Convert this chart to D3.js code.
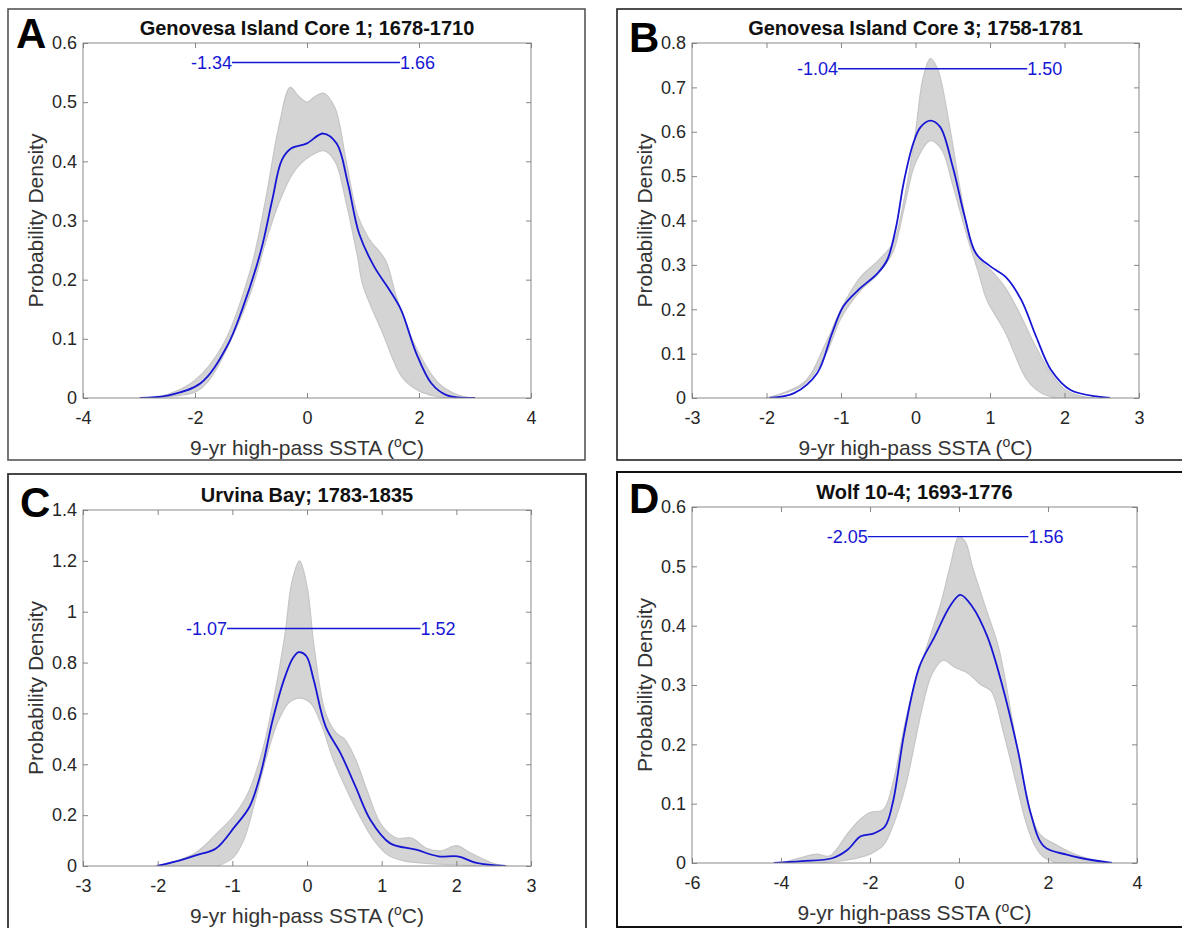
<!DOCTYPE html>
<meta charset="utf-8">
<style>
  body { margin: 0; padding: 0; background: #fff; }
  text { font-family: "Liberation Sans", Arial, sans-serif; }
  .tick text { fill: #262626; font-size: 18px; }
  .tick line { stroke: #7a7a7a; stroke-width: 0.9; }
  .domain { display: none; }
</style>
<script src="https://d3js.org/d3.v7.min.js"></script>
<body>
<div id="chart"></div>
<script>
// ---- data ----
const letters = ["A", "B", "C", "D"];
const titles = [
  "Genovesa Island Core 1; 1678-1710",
  "Genovesa Island Core 3; 1758-1781",
  "Urvina Bay; 1783-1835",
  "Wolf 10-4; 1693-1776"
];
const xTicksA = [-4, -2, 0, 2, 4];
const xTicksB = [-3, -2, -1, 0, 1, 2, 3];
const xTicksC = [-3, -2, -1, 0, 1, 2, 3];
const xTicksD = [-6, -4, -2, 0, 2, 4];
const yTicksA = [0, 0.1, 0.2, 0.3, 0.4, 0.5, 0.6];
const yTicksB = [0, 0.1, 0.2, 0.3, 0.4, 0.5, 0.6, 0.7, 0.8];
const yTicksC = [0, 0.2, 0.4, 0.6, 0.8, 1, 1.2, 1.4];
const yTicksD = [0, 0.1, 0.2, 0.3, 0.4, 0.5, 0.6];

// interval bars: [low, high, height]
const rangeA = [-1.34, 1.66, 0.567];
const rangeB = [-1.04, 1.50, 0.742];
const rangeC = [-1.07, 1.52, 0.934];
const rangeD = [-2.05, 1.56, 0.550];

// blue mean pdf, [x, density]
const meanA = [[-2.98,0],[-2.5,0.004],[-1.9,0.025],[-1.43,0.087],[-1.16,0.149],[-0.82,0.25],[-0.62,0.335],
  [-0.45,0.402],[-0.28,0.422],[-0.01,0.43],[0.29,0.447],[0.53,0.43],[0.73,0.363],[0.93,0.278],[1.2,0.222],
  [1.47,0.183],[1.68,0.149],[1.95,0.076],[2.22,0.025],[2.49,0.005],[3.0,0]];
const meanB = [[-1.96,0],[-1.63,0.011],[-1.32,0.056],[-1.12,0.146],[-0.97,0.206],[-0.77,0.243],[-0.51,0.281],
  [-0.38,0.311],[-0.26,0.386],[-0.16,0.484],[-0.03,0.574],[0.07,0.611],[0.2,0.625],[0.33,0.611],[0.5,0.521],
  [0.66,0.409],[0.81,0.326],[1.01,0.296],[1.21,0.273],[1.42,0.221],[1.62,0.138],[1.82,0.063],[2.08,0.018],[2.61,0]];
const meanC = [[-2.01,0],[-1.68,0.024],[-1.48,0.043],[-1.22,0.069],[-0.97,0.154],[-0.77,0.233],[-0.62,0.364],
  [-0.46,0.574],[-0.31,0.731],[-0.19,0.817],[-0.11,0.841],[-0.01,0.826],[0.09,0.731],[0.25,0.548],[0.45,0.443],
  [0.65,0.312],[0.85,0.181],[1.11,0.09],[1.46,0.064],[1.76,0.038],[2.02,0.038],[2.27,0.012],[2.66,0]];
const meanD = [[-4.16,0],[-3.53,0.003],[-2.85,0.008],[-2.51,0.022],[-2.21,0.045],[-1.91,0.05],[-1.66,0.062],
  [-1.49,0.101],[-1.23,0.219],[-0.89,0.331],[-0.55,0.381],[-0.21,0.432],[0.03,0.452],[0.3,0.432],[0.64,0.381],
  [0.98,0.297],[1.32,0.191],[1.61,0.084],[1.91,0.028],[2.42,0.014],[2.76,0.008],[3.44,0]];

// grey ensemble, upper and lower envelopes
const upperA = [[-3,0],[-2.5,0.006],[-2,0.03],[-1.5,0.09],[-1,0.22],[-0.75,0.33],[-0.5,0.46],[-0.3,0.525],
  [-0.15,0.51],[0,0.5],[0.15,0.51],[0.3,0.515],[0.5,0.49],[0.7,0.4],[0.9,0.31],[1.1,0.27],[1.4,0.233],
  [1.6,0.17],[1.95,0.085],[2.35,0.025],[2.7,0.005],[3,0]];
const lowerA = [[-3,0],[-2,0.01],[-1.75,0.03],[-1.5,0.07],[-1,0.18],[-0.75,0.26],[-0.5,0.33],[-0.25,0.38],
  [0,0.405],[0.3,0.418],[0.5,0.4],[0.7,0.33],[0.9,0.24],[1.0,0.19],[1.35,0.11],[1.7,0.035],[2,0.012],[2.3,0.003],[2.6,0]];
const upperB = [[-2,0],[-1.5,0.035],[-1.2,0.125],[-1,0.2],[-0.75,0.27],[-0.5,0.31],[-0.3,0.35],[-0.15,0.45],
  [0,0.6],[0.1,0.72],[0.2,0.765],[0.3,0.74],[0.45,0.62],[0.6,0.47],[0.75,0.35],[0.9,0.305],[1.0,0.29],
  [1.2,0.25],[1.4,0.19],[1.6,0.12],[1.8,0.06],[2,0.02],[2.2,0.005],[2.4,0]];
const lowerB = [[-2,0],[-1.5,0.03],[-1.2,0.1],[-1,0.18],[-0.75,0.24],[-0.5,0.28],[-0.3,0.33],[-0.15,0.43],
  [0,0.53],[0.2,0.58],[0.35,0.56],[0.5,0.48],[0.7,0.36],[0.85,0.28],[0.96,0.22],[1.2,0.15],[1.5,0.04],[1.7,0.01],[1.9,0]];
const upperC = [[-2,0],[-1.5,0.05],[-1.2,0.13],[-1,0.19],[-0.8,0.28],[-0.6,0.45],[-0.45,0.65],[-0.3,0.9],
  [-0.2,1.12],[-0.1,1.2],[0,1.1],[0.1,0.85],[0.25,0.6],[0.4,0.52],[0.5,0.5],[0.65,0.42],[0.8,0.3],[1.0,0.16],
  [1.2,0.11],[1.4,0.11],[1.6,0.07],[1.8,0.06],[2.0,0.08],[2.2,0.05],[2.5,0.01],[2.7,0]];
const lowerC = [[-1.2,0],[-1,0.03],[-0.85,0.1],[-0.7,0.25],[-0.55,0.42],[-0.4,0.56],[-0.25,0.64],[-0.1,0.66],
  [0.05,0.64],[0.2,0.55],[0.35,0.42],[0.5,0.32],[0.7,0.2],[0.9,0.1],[1.1,0.04],[1.3,0.02],[1.6,0.01],[2.0,0.005],[2.3,0]];
const upperD = [[-4,0],[-3.5,0.01],[-3.2,0.015],[-2.9,0.012],[-2.5,0.05],[-2.2,0.075],[-2,0.085],[-1.7,0.09],
  [-1.5,0.13],[-1.2,0.24],[-1,0.3],[-0.7,0.37],[-0.4,0.44],[-0.2,0.5],[0,0.55],[0.15,0.54],[0.3,0.5],
  [0.6,0.43],[0.9,0.36],[1.2,0.24],[1.5,0.12],[1.8,0.05],[2.2,0.03],[2.7,0.012],[3.3,0]];
const lowerD = [[-3.2,0],[-2.5,0.005],[-2,0.015],[-1.7,0.03],[-1.5,0.06],[-1.2,0.13],[-1,0.2],[-0.8,0.27],
  [-0.6,0.32],[-0.35,0.342],[-0.1,0.33],[0.2,0.32],[0.5,0.3],[0.72,0.29],[1.0,0.22],[1.3,0.13],[1.5,0.07],
  [1.7,0.03],[1.9,0.01],[2.2,0]];

// ---- layout ----
const W = 1182, H = 928;
const panels = [
  {plot: [83, 43, 531, 398], frame: [8, 9, 577, 451], fw: 1.6, fc: "#555", lx: 16, ly: 48,
   xd: [-4, 4], yd: [0, 0.6], xt: xTicksA, yt: yTicksA, mean: meanA, up: upperA, lo: lowerA, rng: rangeA},
  {plot: [692, 43, 1139, 398], frame: [617, 9, 570, 451], fw: 1.6, fc: "#222", lx: 629, ly: 52,
   xd: [-3, 3], yd: [0, 0.8], xt: xTicksB, yt: yTicksB, mean: meanB, up: upperB, lo: lowerB, rng: rangeB},
  {plot: [83, 510, 531, 866], frame: [8, 474, 578, 470], fw: 1.8, fc: "#333", lx: 20, ly: 517,
   xd: [-3, 3], yd: [0, 1.4], xt: xTicksC, yt: yTicksC, mean: meanC, up: upperC, lo: lowerC, rng: rangeC},
  {plot: [692, 507, 1137, 863], frame: [617, 472, 570, 455], fw: 2, fc: "#111", lx: 629, ly: 513,
   xd: [-6, 4], yd: [0, 0.6], xt: xTicksD, yt: yTicksD, mean: meanD, up: upperD, lo: lowerD, rng: rangeD}
];

const svg = d3.select("#chart").append("svg")
  .attr("width", W).attr("height", H);

const fmt = v => String(+v.toFixed(1));   // plain hyphen minus, like MATLAB

panels.forEach(function(p, i) {
  const [x0, y0, x1, y1] = p.plot;
  const x = d3.scaleLinear().domain(p.xd).range([x0, x1]);
  const y = d3.scaleLinear().domain(p.yd).range([y1, y0]);

  // outer frame
  svg.append("rect")
    .attr("x", p.frame[0]).attr("y", p.frame[1])
    .attr("width", p.frame[2]).attr("height", p.frame[3])
    .attr("fill", "none").attr("stroke", p.fc).attr("stroke-width", p.fw);

  const clipId = "clip" + i;
  svg.append("clipPath").attr("id", clipId).append("rect")
    .attr("x", x0).attr("y", y0).attr("width", x1 - x0).attr("height", y1 - y0);

  const line = d3.line()
    .x(d => x(d[0])).y(d => y(Math.max(0, d[1])))
    .curve(d3.curveCatmullRom.alpha(0.5));

  const g = svg.append("g").attr("clip-path", "url(#" + clipId + ")");

  // grey ensemble band
  const band = line(p.up) + "L" + line(p.lo.slice().reverse()).slice(1) + "Z";
  g.append("path").attr("d", band)
    .attr("fill", "#d4d4d4").attr("stroke", "none");
  [p.up, p.lo].forEach(function(c) {
    g.append("path").attr("d", line(c))
      .attr("fill", "none").attr("stroke", "#c6c6c6").attr("stroke-width", 1.2);
  });

  // blue mean curve
  g.append("path").attr("d", line(p.mean))
    .attr("fill", "none").attr("stroke", "#1616d4").attr("stroke-width", 1.8);

  // axes box
  svg.append("rect")
    .attr("x", x0).attr("y", y0).attr("width", x1 - x0).attr("height", y1 - y0)
    .attr("fill", "none").attr("stroke", "#8a8a8a").attr("stroke-width", 1);

  svg.append("g").attr("transform", "translate(0," + y1 + ")")
    .call(d3.axisBottom(x).tickValues(p.xt).tickSizeInner(-5).tickSizeOuter(0)
      .tickPadding(13).tickFormat(fmt));
  svg.append("g").attr("transform", "translate(0," + y0 + ")")
    .call(d3.axisTop(x).tickValues(p.xt).tickSizeInner(-5).tickSizeOuter(0).tickFormat(""));
  svg.append("g").attr("transform", "translate(" + x0 + ",0)")
    .call(d3.axisLeft(y).tickValues(p.yt).tickSizeInner(-5).tickSizeOuter(0)
      .tickPadding(6).tickFormat(fmt));
  svg.append("g").attr("transform", "translate(" + x1 + ",0)")
    .call(d3.axisRight(y).tickValues(p.yt).tickSizeInner(-5).tickSizeOuter(0).tickFormat(""));
  svg.selectAll(".tick text").attr("font-family", null).attr("font-size", null);

  // interval bar with labels
  const [lo, hi, h] = p.rng;
  svg.append("line")
    .attr("x1", x(lo)).attr("x2", x(hi)).attr("y1", y(h)).attr("y2", y(h))
    .attr("stroke", "#1616d4").attr("stroke-width", 1.4);
  svg.append("text").attr("x", x(lo)).attr("y", y(h)).attr("dy", "0.36em")
    .attr("text-anchor", "end").attr("fill", "#1616d4").attr("font-size", 18)
    .text(lo.toFixed(2));
  svg.append("text").attr("x", x(hi)).attr("y", y(h)).attr("dy", "0.36em")
    .attr("text-anchor", "start").attr("fill", "#1616d4").attr("font-size", 18)
    .text(hi.toFixed(2));

  // title
  svg.append("text").attr("x", (x0 + x1) / 2).attr("y", y0 - 8)
    .attr("text-anchor", "middle").attr("font-size", 20).attr("font-weight", "bold")
    .attr("fill", "#111").text(titles[i]);

  // panel letter
  svg.append("text").attr("x", p.lx).attr("y", p.ly)
    .attr("font-size", 42).attr("font-weight", "bold").attr("fill", "#000")
    .text(letters[i]);

  // axis titles
  const xl = svg.append("text").attr("x", (x0 + x1) / 2).attr("y", y1 + 57)
    .attr("text-anchor", "middle").attr("font-size", 21).attr("fill", "#333");
  xl.append("tspan").text("9-yr high-pass SSTA (");
  xl.append("tspan").attr("dy", -8).attr("font-size", 14).text("o");
  xl.append("tspan").attr("dy", 8).text("C)");

  svg.append("text")
    .attr("transform", "translate(" + (x0 - 40) + "," + ((y0 + y1) / 2) + ") rotate(-90)")
    .attr("text-anchor", "middle").attr("font-size", 21).attr("fill", "#333")
    .text("Probability Density");
});
</script>
</body>
